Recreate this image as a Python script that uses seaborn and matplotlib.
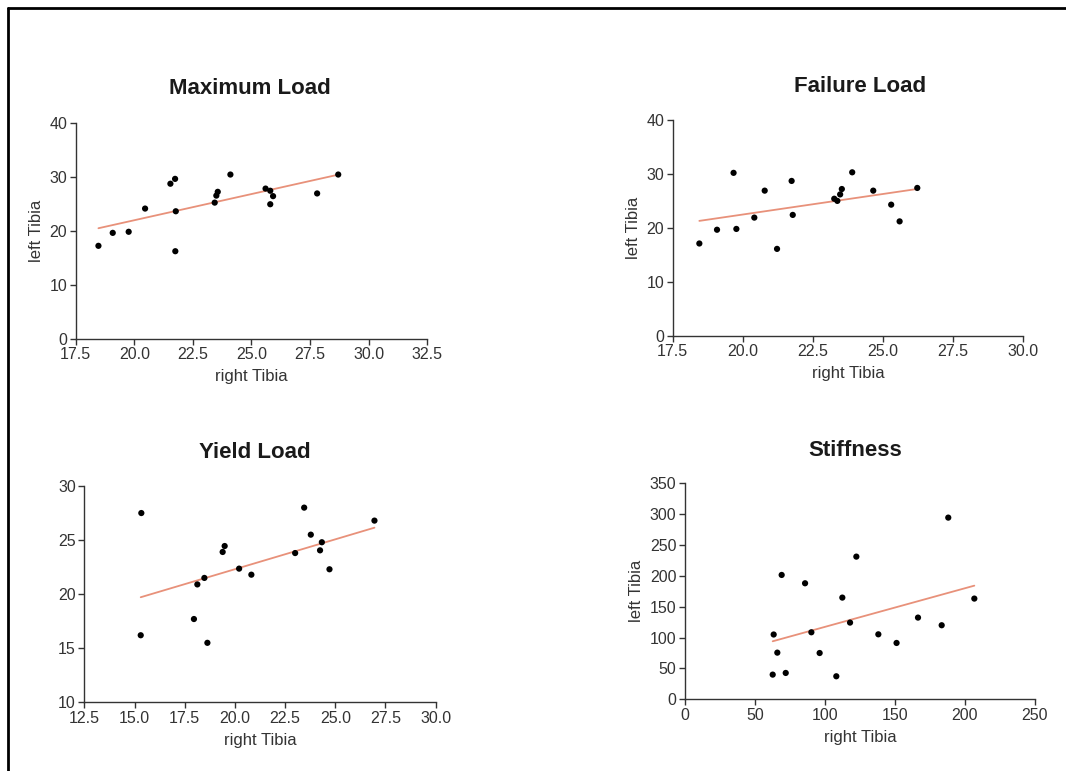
import matplotlib
matplotlib.use("Agg")
import matplotlib.pyplot as plt
from matplotlib.lines import Line2D
import seaborn as sns
import numpy as np

# ---- data ----
max_right = [18.47, 19.08, 19.76, 20.46, 21.54, 21.74, 21.77, 21.75, 23.43, 23.50,
             23.56, 24.10, 25.60, 25.80, 25.92, 25.80, 27.80, 28.70]
max_left = [17.2, 19.6, 19.8, 24.1, 28.7, 29.6, 23.6, 16.2, 25.2, 26.5,
            27.2, 30.4, 27.8, 27.4, 26.4, 24.9, 26.9, 30.4]

fail_right = [18.45, 19.08, 19.67, 19.77, 20.41, 20.78, 21.22, 21.74, 21.78, 23.26,
              23.37, 23.47, 23.53, 23.90, 24.65, 25.29, 25.59, 26.22]
fail_left = [17.1, 19.65, 30.2, 19.8, 21.9, 26.9, 16.1, 28.7, 22.4, 25.4,
             25.0, 26.2, 27.2, 30.3, 26.9, 24.3, 21.2, 27.4]

yield_right = [15.34, 15.31, 17.96, 18.13, 18.48, 18.63, 19.39, 19.49, 20.21, 20.82,
               23.00, 23.45, 23.78, 24.24, 24.33, 24.71, 26.95]
yield_left = [27.5, 16.2, 17.7, 20.9, 21.5, 15.5, 23.9, 24.45, 22.36, 21.8,
              23.8, 28.0, 25.5, 24.05, 24.8, 22.3, 26.8]

stiff_right = [62.8, 63.5, 66.1, 69.2, 72.1, 85.9, 90.4, 96.3, 108.2, 112.5,
               118.0, 122.5, 138.2, 151.2, 166.5, 183.4, 188.1, 206.7]
stiff_left = [40, 105, 75.6, 201.5, 42.7, 188, 108.6, 75, 37.3, 164.8,
              124.3, 231.2, 105.3, 91.3, 132.4, 120, 294.4, 163.2]

titles = ["Maximum Load", "Failure Load", "Yield Load", "Stiffness"]
x_ticks = [
    [17.5, 20.0, 22.5, 25.0, 27.5, 30.0, 32.5],
    [17.5, 20.0, 22.5, 25.0, 27.5, 30.0],
    [12.5, 15.0, 17.5, 20.0, 22.5, 25.0, 27.5, 30.0],
    [0, 50, 100, 150, 200, 250],
]
y_ticks = [
    [0, 10, 20, 30, 40],
    [0, 10, 20, 30, 40],
    [10, 15, 20, 25, 30],
    [0, 50, 100, 150, 200, 250, 300, 350],
]
x_fmt = ["{:.1f}", "{:.1f}", "{:.1f}", "{:d}"]
y_labels = ["left Tibia", "left Tibia", "", "left Tibia"]

sns.set_style("ticks")
plt.rcParams["font.family"] = ["Liberation Sans", "DejaVu Sans"]

W, H = 1066, 771
fig = plt.figure(figsize=(W / 100, H / 100), dpi=100)

# axes boxes in pixels: left, right, top, bottom
boxes = [
    (75.7, 427.3, 122.7, 338.7),
    (672.7, 1023.3, 120.0, 335.7),
    (84.3, 435.7, 486.0, 702.3),
    (684.7, 1035.0, 483.3, 699.3),
]
title_pos = [(250, 88), (860, 86), (255, 452), (855, 450)]

datasets = [(max_right, max_left), (fail_right, fail_left),
            (yield_right, yield_left), (stiff_right, stiff_left)]

tick_col = "#333333"
for i, (l, r, t, b) in enumerate(boxes):
    ax = fig.add_axes([l / W, 1 - b / H, (r - l) / W, (b - t) / H])
    xr, yl = datasets[i]
    sns.regplot(x=np.array(xr), y=np.array(yl), ax=ax, ci=None,
                scatter_kws=dict(s=20, color="#000000", edgecolor="none", alpha=1, zorder=3),
                line_kws=dict(color="#e8917a", lw=1.3, zorder=2))
    ax.set_xlim(x_ticks[i][0], x_ticks[i][-1])
    ax.set_ylim(y_ticks[i][0], y_ticks[i][-1])
    ax.set_xticks(x_ticks[i])
    ax.set_yticks(y_ticks[i])
    ax.set_xticklabels([x_fmt[i].format(v) for v in x_ticks[i]])
    ax.set_yticklabels([str(v) for v in y_ticks[i]])
    ax.tick_params(axis="both", direction="out", length=4.5, width=1,
                   color=tick_col, labelcolor=tick_col, labelsize=11.5, pad=1.5)
    for s in ["top", "right"]:
        ax.spines[s].set_visible(False)
    for s in ["left", "bottom"]:
        ax.spines[s].set_color(tick_col)
        ax.spines[s].set_linewidth(1.0)
    ax.set_xlabel("right Tibia", fontsize=12, color=tick_col, labelpad=5)
    ax.set_ylabel(y_labels[i], fontsize=12, color=tick_col, labelpad=4)
    tx, ty = title_pos[i]
    fig.text(tx / W, 1 - ty / H, titles[i], ha="center", va="center",
             fontsize=16, fontweight="bold", color="#1a1a1a")

# partial frame around the figure (top and left edges)
fig.add_artist(Line2D([7.5 / W, 1.0], [1 - 8 / H, 1 - 8 / H],
                      transform=fig.transFigure, color="black", lw=2.0))
fig.add_artist(Line2D([7.5 / W, 7.5 / W], [0.0, 1 - 8 / H],
                      transform=fig.transFigure, color="black", lw=2.0))

fig.savefig("out.png", dpi=100)
